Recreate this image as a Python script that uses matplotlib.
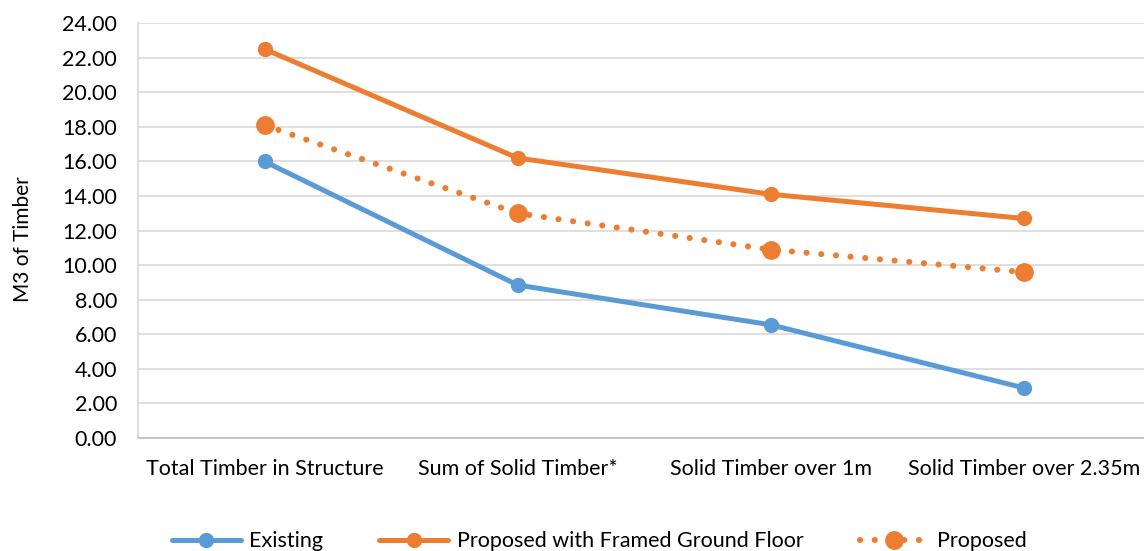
import matplotlib.pyplot as plt

plt.rcParams['font.family'] = ['Lato', 'DejaVu Sans']

categories = ['Total Timber in Structure', 'Sum of Solid Timber*',
              'Solid Timber over 1m', 'Solid Timber over 2.35m']
existing = [16.0, 8.85, 6.55, 2.9]
framed = [22.5, 16.2, 14.1, 12.7]
proposed = [18.1, 13.0, 10.9, 9.6]
yticks = [0, 2, 4, 6, 8, 10, 12, 14, 16, 18, 20, 22, 24]

blue = '#5B9BD5'
orange = '#ED7D31'

fig = plt.figure(figsize=(11.44, 5.51), dpi=100)
ax = fig.add_axes([0.1206, 0.205, 0.885, 0.753])

x = range(len(categories))
ax.plot(x, existing, color=blue, lw=3.6, marker='o', ms=10, label='Existing',
        solid_capstyle='round')
ax.plot(x, framed, color=orange, lw=3.6, marker='o', ms=10,
        label='Proposed with Framed Ground Floor', solid_capstyle='round')
ax.plot(x, proposed, color=orange, lw=4.4, marker='o', ms=12.5,
        linestyle=(0, (0.01, 2.4)), dash_capstyle='round', label='Proposed')

ax.set_xlim(-0.5, 3.5)
ax.set_ylim(0, 24)
ax.set_yticks(yticks)
ax.set_yticklabels([f'{v:.2f}' for v in yticks])
ax.set_xticks(list(x))
ax.set_xticklabels(categories)
ax.tick_params(axis='both', length=0, labelsize=15.5, colors='black')
ax.tick_params(axis='y', pad=15)
ax.tick_params(axis='x', pad=15)

ax.grid(axis='y', color='#D9D9D9', lw=1.2)
ax.set_axisbelow(True)
for s in ['top', 'right']:
    ax.spines[s].set_visible(False)
ax.spines['left'].set_color('#D9D9D9')
ax.spines['bottom'].set_color('#BFBFBF')
ax.spines['left'].set_linewidth(1.2)
ax.spines['bottom'].set_linewidth(1.2)

ax.set_ylabel('M3 of Timber', fontsize=15)
ax.yaxis.set_label_coords(-0.104, 0.48)

fig.legend(loc='center', bbox_to_anchor=(0.524, 0.018), ncol=3, frameon=False,
           fontsize=15.5, handlelength=3.2, columnspacing=2.6, handletextpad=0.4)

fig.savefig('out.png', dpi=100)
